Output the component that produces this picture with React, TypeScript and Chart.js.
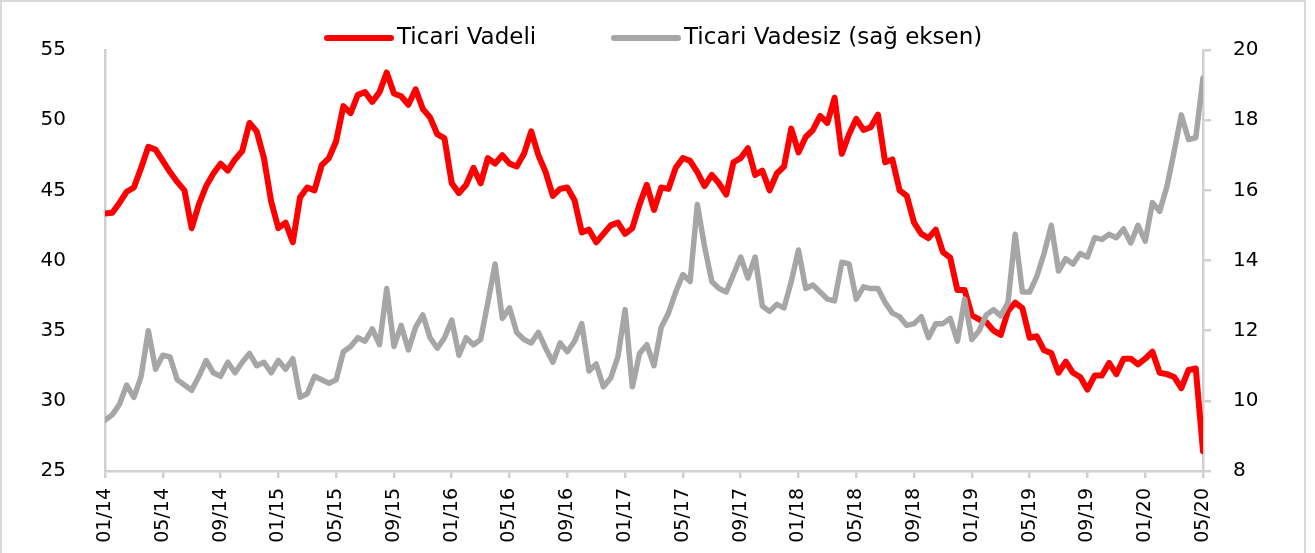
import React, { useEffect, useRef } from "react";
import { Chart, registerables } from "chart.js";

Chart.register(...registerables);

// Tick labels of the date axis (every 4 months, starting 01/2014)
const tickLabels = [
  "01/14", "05/14", "09/14", "01/15", "05/15", "09/15", "01/16", "05/16", "09/16", "01/17",
  "05/17", "09/17", "01/18", "05/18", "09/18", "01/19", "05/19", "09/19", "01/20", "05/20",
];

// Sampling step of the series, in months from 01/2014
const STEP_MONTHS = 0.5;

const seriesNames = ["Ticari Vadeli", "Ticari Vadesiz (sağ eksen)"];

// Ticari Vadeli (left axis)
const vadeli = [
  43.35, 43.4, 44.1, 44.9, 45.2, 46.6, 48.1, 47.9, 47.1, 46.3,
  45.6, 45.0, 42.3, 44.0, 45.3, 46.2, 46.9, 46.4, 47.2, 47.8,
  49.8, 49.2, 47.3, 44.2, 42.3, 42.7, 41.3, 44.5, 45.2, 45.0,
  46.8, 47.3, 48.5, 51.0, 50.5, 51.8, 52.0, 51.3, 52.0, 53.4,
  51.9, 51.7, 51.1, 52.2, 50.8, 50.2, 49.0, 48.7, 45.5, 44.8,
  45.4, 46.6, 45.5, 47.3, 46.9, 47.5, 46.9, 46.7, 47.6, 49.2,
  47.5, 46.3, 44.6, 45.1, 45.2, 44.3, 42.0, 42.2, 41.3, 41.9,
  42.5, 42.7, 41.9, 42.3, 44.0, 45.4, 43.6, 45.2, 45.1, 46.6,
  47.3, 47.1, 46.3, 45.3, 46.1, 45.5, 44.7, 47.0, 47.3, 48.0,
  46.1, 46.4, 45.0, 46.2, 46.7, 49.4, 47.7, 48.8, 49.3, 50.3,
  49.8, 51.6, 47.6, 49.0, 50.1, 49.3, 49.5, 50.4, 47.0, 47.2,
  45.0, 44.6, 42.7, 41.9, 41.6, 42.2, 40.6, 40.2, 37.9, 37.9,
  36.1, 35.8, 35.6, 35.0, 34.7, 36.4, 37.0, 36.6, 34.5, 34.6,
  33.6, 33.4, 32.0, 32.8, 32.0, 31.7, 30.8, 31.8, 31.8, 32.7,
  31.9, 33.0, 33.0, 32.6, 33.0, 33.5, 32.0, 31.9, 31.7, 30.9,
  32.2, 32.3, 26.4,
];

// Ticari Vadesiz (right axis)
const vadesiz = [
  9.45, 9.6, 9.9, 10.45, 10.1, 10.7, 12.0, 10.9, 11.3, 11.25,
  10.6, 10.45, 10.3, 10.7, 11.15, 10.8, 10.7, 11.1, 10.8, 11.1,
  11.35, 11.0, 11.1, 10.8, 11.15, 10.9, 11.2, 10.1, 10.2, 10.7,
  10.6, 10.5, 10.6, 11.4, 11.55, 11.8, 11.7, 12.05, 11.6, 13.2,
  11.55, 12.15, 11.45, 12.1, 12.45, 11.8, 11.5, 11.8, 12.3, 11.3,
  11.8, 11.6, 11.75, 12.8, 13.9, 12.35, 12.65, 11.95, 11.75, 11.65,
  11.95, 11.5, 11.1, 11.65, 11.4, 11.7, 12.2, 10.85, 11.05, 10.4,
  10.65, 11.25, 12.6, 10.4, 11.35, 11.6, 11.0, 12.1, 12.5, 13.1,
  13.6, 13.4, 15.6, 14.4, 13.4, 13.2, 13.1, 13.6, 14.1, 13.5,
  14.1, 12.7, 12.55, 12.75, 12.65, 13.4, 14.3, 13.2, 13.3, 13.1,
  12.9, 12.85, 13.95, 13.9, 12.9, 13.25, 13.2, 13.2, 12.8, 12.5,
  12.4, 12.15, 12.2, 12.4, 11.8, 12.2, 12.2, 12.35, 11.7, 12.9,
  11.75, 12.0, 12.45, 12.6, 12.42, 12.8, 14.75, 13.1, 13.1, 13.55,
  14.2, 15.0, 13.7, 14.05, 13.9, 14.2, 14.1, 14.65, 14.6, 14.75,
  14.65, 14.9, 14.5, 15.0, 14.55, 15.65, 15.4, 16.1, 17.1, 18.15,
  17.45, 17.5, 19.2,
];

const RED = "#FF0000";
const GRAY = "#A6A6A6";
const AXIS = "#D0D0D0";
const FONT = "'DejaVu Sans', sans-serif";

export default function App() {
  const ref = useRef<HTMLCanvasElement | null>(null);

  useEffect(() => {
    document.body.style.margin = "0";
    const canvas = ref.current;
    if (!canvas) return;

    const legendPlugin = {
      id: "customLegend",
      beforeDraw(chart: any) {
        const c = chart.ctx;
        c.save();
        c.fillStyle = "#FFFFFF";
        c.fillRect(0, 0, chart.width, chart.height);
        // outer frame: left, top and right edges
        c.strokeStyle = "#D9D9D9";
        c.lineWidth = 2;
        c.beginPath();
        c.moveTo(1, chart.height);
        c.lineTo(1, 1);
        c.lineTo(1305, 1);
        c.lineTo(1305, chart.height);
        c.stroke();
        c.restore();
      },
      afterDraw(chart: any) {
        const c = chart.ctx;
        const items = [
          { x0: 327, x1: 391, tx: 397, color: RED, text: seriesNames[0] },
          { x0: 614, x1: 678, tx: 684, color: GRAY, text: seriesNames[1] },
        ];
        const y = 38;
        c.save();
        c.lineCap = "round";
        c.lineWidth = 6;
        c.font = `23px ${FONT}`;
        c.textBaseline = "middle";
        c.textAlign = "left";
        for (const it of items) {
          c.strokeStyle = it.color;
          c.beginPath();
          c.moveTo(it.x0, y);
          c.lineTo(it.x1, y);
          c.stroke();
          c.fillStyle = "#000000";
          c.fillText(it.text, it.tx, y);
        }
        c.restore();
      },
    };

    const chart = new Chart(canvas, {
      type: "line",
      data: {
        datasets: [
          {
            label: seriesNames[0],
            data: vadeli.map((v, i) => ({ x: i * STEP_MONTHS, y: v })),
            borderColor: RED,
            backgroundColor: RED,
            borderWidth: 6,
            pointRadius: 0,
            tension: 0,
            borderJoinStyle: "round",
            borderCapStyle: "round",
            yAxisID: "y",
            order: 2,
          },
          {
            label: seriesNames[1],
            data: vadesiz.map((v, i) => ({ x: i * STEP_MONTHS, y: v })),
            borderColor: GRAY,
            backgroundColor: GRAY,
            borderWidth: 5.5,
            pointRadius: 0,
            tension: 0,
            borderJoinStyle: "round",
            borderCapStyle: "round",
            yAxisID: "y1",
            order: 1,
          },
        ],
      },
      options: {
        responsive: false,
        animation: false,
        events: [],
        layout: { padding: { top: 50, left: 0, right: 0, bottom: 0 } },
        plugins: {
          legend: { display: false },
          tooltip: { enabled: false },
        },
        scales: {
          x: {
            type: "linear",
            min: 0,
            max: 76,
            afterFit: (s: any) => {
              s.height = 82;
            },
            border: { display: true, color: AXIS, width: 2.5 },
            grid: {
              display: true,
              drawOnChartArea: false,
              drawTicks: true,
              tickLength: 7,
              color: AXIS,
              lineWidth: 2.5,
            },
            ticks: {
              stepSize: 4,
              autoSkip: false,
              maxRotation: 90,
              minRotation: 90,
              padding: 10,
              color: "#000000",
              font: { family: FONT, size: 19 },
              callback: (v: any) => tickLabels[Math.round(Number(v) / 4)] ?? "",
            },
          },
          y: {
            type: "linear",
            position: "left",
            min: 25,
            max: 55,
            afterFit: (s: any) => {
              s.width = 105;
            },
            border: { display: true, color: AXIS, width: 2.5 },
            grid: { display: false },
            ticks: {
              stepSize: 5,
              padding: 31,
              color: "#000000",
              font: { family: FONT, size: 20 },
            },
          },
          y1: {
            type: "linear",
            position: "right",
            min: 8,
            max: 20,
            afterFit: (s: any) => {
              s.width = 112;
            },
            border: { display: true, color: AXIS, width: 2.5 },
            grid: {
              display: true,
              drawOnChartArea: false,
              drawTicks: true,
              tickLength: 8,
              color: AXIS,
              lineWidth: 2.5,
            },
            ticks: {
              stepSize: 2,
              padding: 22,
              color: "#000000",
              font: { family: FONT, size: 20 },
            },
          },
        },
      },
      plugins: [legendPlugin],
    });

    return () => chart.destroy();
  }, []);

  return (
    <div style={{ width: 1315, height: 553 }}>
      <canvas ref={ref} width={1315} height={553} style={{ display: "block", width: 1315, height: 553 }} />
    </div>
  );
}
